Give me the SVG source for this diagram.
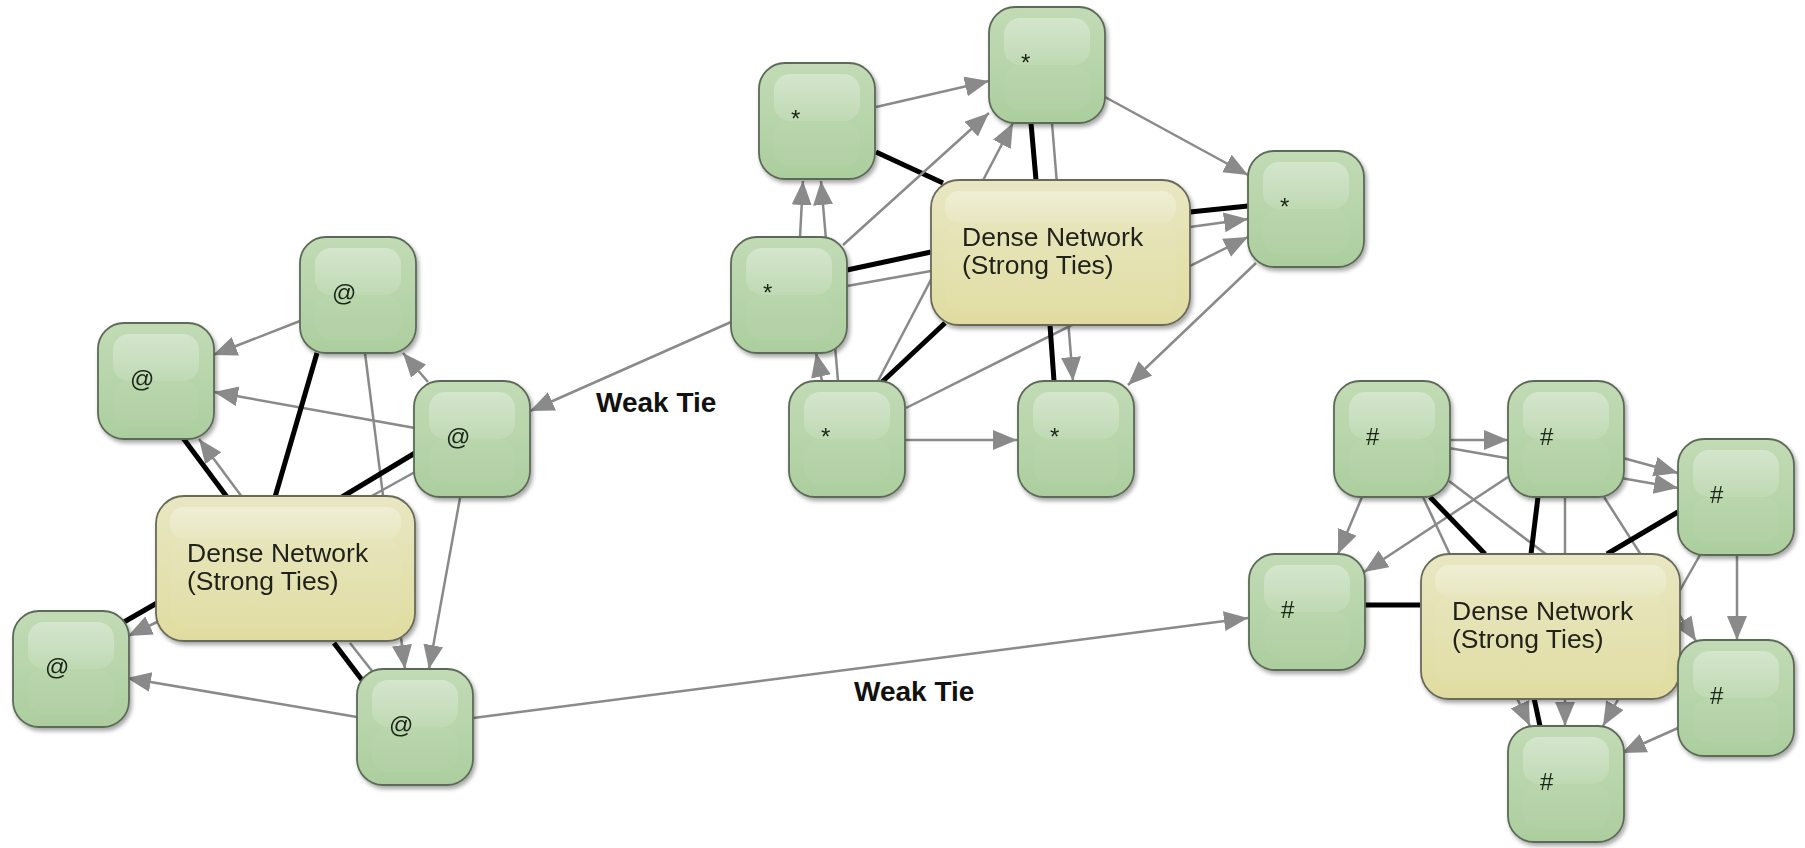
<svg xmlns="http://www.w3.org/2000/svg" width="1805" height="848" viewBox="0 0 1805 848">
<defs>
<style>
.e{stroke:#8a8a8a;stroke-width:2.5;fill:none}
.a{marker-end:url(#ah)}
.s{stroke:#000;stroke-width:5;fill:none}
.g{fill:url(#gG);stroke:#5c6a58;stroke-width:1.8}
.d{fill:url(#gD);stroke:#6b6b5a;stroke-width:1.8}
.hi{fill:url(#gH)}
.lo{fill:#ffffff;fill-opacity:0.04}
.lb{font-family:'Liberation Sans',Arial,sans-serif;font-size:24px;fill:#1a2617}
.dt{font-family:'Liberation Sans',Arial,sans-serif;font-size:26.5px;fill:#22241a}
.wt{font-family:'Liberation Sans',Arial,sans-serif;font-size:28px;font-weight:bold;fill:#111}
</style>
<marker id="ah" markerUnits="userSpaceOnUse" markerWidth="26" markerHeight="22" refX="24" refY="10" orient="auto" viewBox="0 0 26 22"><path d="M0,0 L24,10 L0,20 z" fill="#8a8a8a"/></marker>
<linearGradient id="gG" x1="0" y1="0" x2="0" y2="1"><stop offset="0" stop-color="#c2dbb6"/><stop offset="1" stop-color="#acce9e"/></linearGradient>
<linearGradient id="gD" x1="0" y1="0" x2="0" y2="1"><stop offset="0" stop-color="#e8e7c2"/><stop offset="1" stop-color="#e0dca0"/></linearGradient>
<linearGradient id="gH" x1="0" y1="0" x2="0" y2="1"><stop offset="0" stop-color="#ffffff" stop-opacity="0.32"/><stop offset="1" stop-color="#ffffff" stop-opacity="0.12"/></linearGradient>
<filter id="sh" x="-15%" y="-15%" width="140%" height="140%"><feDropShadow dx="2" dy="3" stdDeviation="2.2" flood-color="#000" flood-opacity="0.35"/></filter>
</defs>
<rect width="1805" height="848" fill="#ffffff"/>
<g id="connectors">
<line class="e a" x1="300" y1="321" x2="213" y2="355"/>
<line class="e a" x1="415" y1="428" x2="214" y2="392"/>
<line class="e a" x1="428" y1="382" x2="403" y2="353"/>
<line class="s" x1="317" y1="353" x2="275" y2="497"/>
<line class="e a" x1="365" y1="353" x2="405" y2="669"/>
<line class="s" x1="183" y1="438" x2="227" y2="497"/>
<line class="e a" x1="242" y1="497" x2="199" y2="439"/>
<line class="s" x1="415" y1="453" x2="342" y2="497"/>
<line class="e" x1="415" y1="472" x2="370" y2="497"/>
<line class="e a" x1="460" y1="498" x2="429" y2="669"/>
<line class="s" x1="157" y1="603" x2="124" y2="622"/>
<line class="e a" x1="157" y1="622" x2="128" y2="636"/>
<line class="e a" x1="357" y1="717" x2="127" y2="678"/>
<line class="s" x1="334" y1="643" x2="362" y2="680"/>
<line class="e" x1="350" y1="643" x2="372" y2="671"/>
<line class="e a" x1="473" y1="718" x2="1248" y2="618"/>
<line class="e a" x1="731" y1="322" x2="530" y2="411"/>
<line class="e a" x1="876" y1="107" x2="989" y2="81"/>
<line class="s" x1="876" y1="152" x2="943" y2="183"/>
<line class="e a" x1="800" y1="237" x2="803" y2="181"/>
<line class="e a" x1="838" y1="381" x2="821" y2="181"/>
<line class="e a" x1="822" y1="381" x2="816" y2="353"/>
<line class="e a" x1="843" y1="245" x2="989" y2="113"/>
<line class="e a" x1="878" y1="381" x2="1013" y2="123"/>
<line class="s" x1="1031" y1="123" x2="1036" y2="180"/>
<line class="e a" x1="1052" y1="123" x2="1073" y2="381"/>
<line class="e a" x1="1105" y1="97" x2="1248" y2="175"/>
<line class="s" x1="1190" y1="212" x2="1248" y2="206"/>
<line class="e a" x1="1190" y1="227" x2="1248" y2="219"/>
<line class="e a" x1="906" y1="408" x2="1248" y2="237"/>
<line class="e a" x1="1256" y1="263" x2="1128" y2="385"/>
<line class="e a" x1="904" y1="440" x2="1017" y2="440"/>
<line class="s" x1="1050" y1="325" x2="1054" y2="381"/>
<line class="s" x1="847" y1="270" x2="931" y2="252"/>
<line class="e" x1="847" y1="286" x2="931" y2="271"/>
<line class="s" x1="882" y1="382" x2="945" y2="323"/>
<line class="e a" x1="1449" y1="440" x2="1508" y2="440"/>
<line class="e a" x1="1449" y1="448" x2="1678" y2="488"/>
<line class="e a" x1="1623" y1="458" x2="1678" y2="473"/>
<line class="e a" x1="1362" y1="497" x2="1338" y2="554"/>
<line class="e a" x1="1508" y1="477" x2="1364" y2="572"/>
<line class="s" x1="1430" y1="497" x2="1485" y2="554"/>
<line class="e a" x1="1423" y1="497" x2="1530" y2="726"/>
<line class="e a" x1="1449" y1="481" x2="1681" y2="656"/>
<line class="e a" x1="1565" y1="497" x2="1565" y2="726"/>
<line class="s" x1="1538" y1="497" x2="1531" y2="554"/>
<line class="e a" x1="1604" y1="497" x2="1696" y2="641"/>
<line class="s" x1="1678" y1="512" x2="1607" y2="554"/>
<line class="e a" x1="1700" y1="555" x2="1603" y2="726"/>
<line class="e a" x1="1737" y1="555" x2="1737" y2="640"/>
<line class="e a" x1="1678" y1="728" x2="1622" y2="753"/>
<line class="s" x1="1364" y1="605" x2="1420" y2="605"/>
<line class="s" x1="1534" y1="698" x2="1540" y2="726"/>
<text class="wt" x="596" y="412">Weak Tie</text>
<text class="wt" x="854" y="701">Weak Tie</text>
</g>
<g id="dense-left" filter="url(#sh)"><rect class="d" x="156" y="496" width="259" height="145" rx="28"/><rect class="hi" x="170" y="507" width="231" height="32" rx="14"/><rect class="lo" x="170" y="539" width="231" height="88" rx="14"/><text class="dt" x="187" y="562">Dense Network</text><text class="dt" x="187" y="590">(Strong Ties)</text></g>
<g id="dense-top" filter="url(#sh)"><rect class="d" x="931" y="180" width="259" height="145" rx="28"/><rect class="hi" x="945" y="191" width="231" height="32" rx="14"/><rect class="lo" x="945" y="223" width="231" height="88" rx="14"/><text class="dt" x="962" y="246">Dense Network</text><text class="dt" x="962" y="274">(Strong Ties)</text></g>
<g id="dense-right" filter="url(#sh)"><rect class="d" x="1421" y="554" width="259" height="145" rx="28"/><rect class="hi" x="1435" y="565" width="231" height="32" rx="14"/><rect class="lo" x="1435" y="597" width="231" height="88" rx="14"/><text class="dt" x="1452" y="620">Dense Network</text><text class="dt" x="1452" y="648">(Strong Ties)</text></g>
<g id="at1" filter="url(#sh)"><rect class="g" x="300" y="237" width="116" height="116" rx="26"/><rect class="hi" x="315" y="248" width="86" height="47" rx="16"/><rect class="lo" x="315" y="295" width="86" height="45" rx="16"/><text class="lb" x="332" y="301">@</text></g>
<g id="at2" filter="url(#sh)"><rect class="g" x="98" y="323" width="116" height="116" rx="26"/><rect class="hi" x="113" y="334" width="86" height="47" rx="16"/><rect class="lo" x="113" y="381" width="86" height="45" rx="16"/><text class="lb" x="130" y="387">@</text></g>
<g id="at3" filter="url(#sh)"><rect class="g" x="414" y="381" width="116" height="116" rx="26"/><rect class="hi" x="429" y="392" width="86" height="47" rx="16"/><rect class="lo" x="429" y="439" width="86" height="45" rx="16"/><text class="lb" x="446" y="445">@</text></g>
<g id="at4" filter="url(#sh)"><rect class="g" x="13" y="611" width="116" height="116" rx="26"/><rect class="hi" x="28" y="622" width="86" height="47" rx="16"/><rect class="lo" x="28" y="669" width="86" height="45" rx="16"/><text class="lb" x="45" y="675">@</text></g>
<g id="at5" filter="url(#sh)"><rect class="g" x="357" y="669" width="116" height="116" rx="26"/><rect class="hi" x="372" y="680" width="86" height="47" rx="16"/><rect class="lo" x="372" y="727" width="86" height="45" rx="16"/><text class="lb" x="389" y="733">@</text></g>
<g id="star1" filter="url(#sh)"><rect class="g" x="759" y="63" width="116" height="116" rx="26"/><rect class="hi" x="774" y="74" width="86" height="47" rx="16"/><rect class="lo" x="774" y="121" width="86" height="45" rx="16"/><text class="lb" x="791" y="127">*</text></g>
<g id="star2" filter="url(#sh)"><rect class="g" x="989" y="7" width="116" height="116" rx="26"/><rect class="hi" x="1004" y="18" width="86" height="47" rx="16"/><rect class="lo" x="1004" y="65" width="86" height="45" rx="16"/><text class="lb" x="1021" y="71">*</text></g>
<g id="star3" filter="url(#sh)"><rect class="g" x="1248" y="151" width="116" height="116" rx="26"/><rect class="hi" x="1263" y="162" width="86" height="47" rx="16"/><rect class="lo" x="1263" y="209" width="86" height="45" rx="16"/><text class="lb" x="1280" y="215">*</text></g>
<g id="star4" filter="url(#sh)"><rect class="g" x="731" y="237" width="116" height="116" rx="26"/><rect class="hi" x="746" y="248" width="86" height="47" rx="16"/><rect class="lo" x="746" y="295" width="86" height="45" rx="16"/><text class="lb" x="763" y="301">*</text></g>
<g id="star5" filter="url(#sh)"><rect class="g" x="789" y="381" width="116" height="116" rx="26"/><rect class="hi" x="804" y="392" width="86" height="47" rx="16"/><rect class="lo" x="804" y="439" width="86" height="45" rx="16"/><text class="lb" x="821" y="445">*</text></g>
<g id="star6" filter="url(#sh)"><rect class="g" x="1018" y="381" width="116" height="116" rx="26"/><rect class="hi" x="1033" y="392" width="86" height="47" rx="16"/><rect class="lo" x="1033" y="439" width="86" height="45" rx="16"/><text class="lb" x="1050" y="445">*</text></g>
<g id="hash1" filter="url(#sh)"><rect class="g" x="1334" y="381" width="116" height="116" rx="26"/><rect class="hi" x="1349" y="392" width="86" height="47" rx="16"/><rect class="lo" x="1349" y="439" width="86" height="45" rx="16"/><text class="lb" x="1366" y="445">#</text></g>
<g id="hash2" filter="url(#sh)"><rect class="g" x="1508" y="381" width="116" height="116" rx="26"/><rect class="hi" x="1523" y="392" width="86" height="47" rx="16"/><rect class="lo" x="1523" y="439" width="86" height="45" rx="16"/><text class="lb" x="1540" y="445">#</text></g>
<g id="hash3" filter="url(#sh)"><rect class="g" x="1678" y="439" width="116" height="116" rx="26"/><rect class="hi" x="1693" y="450" width="86" height="47" rx="16"/><rect class="lo" x="1693" y="497" width="86" height="45" rx="16"/><text class="lb" x="1710" y="503">#</text></g>
<g id="hash4" filter="url(#sh)"><rect class="g" x="1249" y="554" width="116" height="116" rx="26"/><rect class="hi" x="1264" y="565" width="86" height="47" rx="16"/><rect class="lo" x="1264" y="612" width="86" height="45" rx="16"/><text class="lb" x="1281" y="618">#</text></g>
<g id="hash5" filter="url(#sh)"><rect class="g" x="1678" y="640" width="116" height="116" rx="26"/><rect class="hi" x="1693" y="651" width="86" height="47" rx="16"/><rect class="lo" x="1693" y="698" width="86" height="45" rx="16"/><text class="lb" x="1710" y="704">#</text></g>
<g id="hash6" filter="url(#sh)"><rect class="g" x="1508" y="726" width="116" height="116" rx="26"/><rect class="hi" x="1523" y="737" width="86" height="47" rx="16"/><rect class="lo" x="1523" y="784" width="86" height="45" rx="16"/><text class="lb" x="1540" y="790">#</text></g>
</svg>
